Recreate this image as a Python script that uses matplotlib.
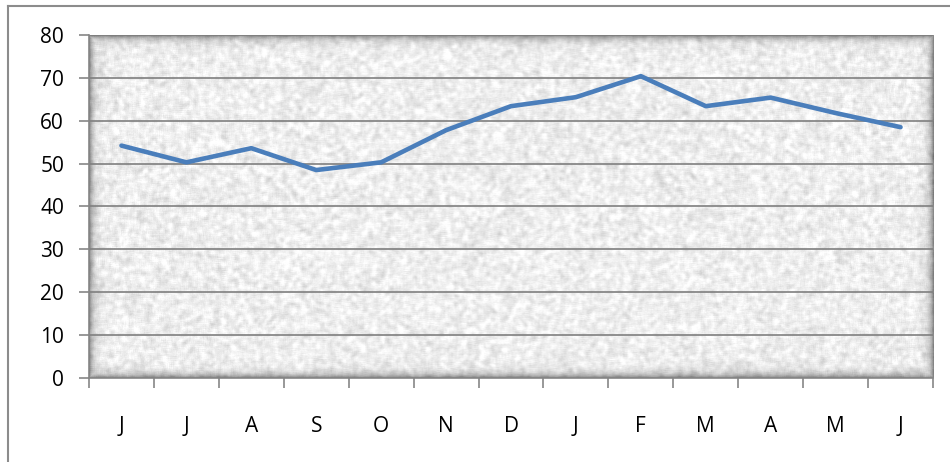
import numpy as np
import matplotlib
matplotlib.use('Agg')
import matplotlib.pyplot as plt
from matplotlib.lines import Line2D

months = ['J', 'J', 'A', 'S', 'O', 'N', 'D', 'J', 'F', 'M', 'A', 'M', 'J']
values = [54.2, 50.3, 53.6, 48.5, 50.3, 57.8, 63.4, 65.5, 70.4, 63.4, 65.4, 61.8, 58.5]
yticks = [0, 10, 20, 30, 40, 50, 60, 70, 80]

plt.rcParams['font.family'] = ['Open Sans', 'DejaVu Sans']

W, H = 950, 462
fig = plt.figure(figsize=(W / 100, H / 100), dpi=100)
fig.patch.set_facecolor('white')

# outer chart frame (top and left edges)
fig.add_artist(Line2D([8 / W, 1], [1 - 6 / H, 1 - 6 / H], color='#8c8c8c', lw=1.5))
fig.add_artist(Line2D([8 / W, 8 / W], [0, 1 - 6 / H], color='#8c8c8c', lw=1.5))

x0, x1, ytop, ybot = 89, 933, 35, 378
ax = fig.add_axes([x0 / W, 1 - ybot / H, (x1 - x0) / W, (ybot - ytop) / H])

# speckled light gray background with darker edges
rng = np.random.default_rng(7)
ph, pw = ybot - ytop, x1 - x0
noise = rng.random((ph, pw))
k = 2
pad = np.pad(noise, k, mode='reflect')
sm = np.zeros_like(noise)
for dy in range(-k, k + 1):
    for dx in range(-k, k + 1):
        sm += pad[k + dy:k + dy + ph, k + dx:k + dx + pw]
sm /= (2 * k + 1) ** 2
sm = (sm - sm.mean()) / sm.std()
tex = 0.935 + 0.032 * sm + 0.02 * (noise - 0.5)
yy, xx = np.mgrid[0:ph, 0:pw]
d = np.minimum(np.minimum(xx, pw - 1 - xx), np.minimum(yy, ph - 1 - yy)).astype(float)
vign = 1 - 0.45 * np.exp(-d / 4.0)
tex = np.clip(tex * vign, 0, 1)
ax.imshow(tex, cmap='gray', vmin=0, vmax=1, extent=[-0.5, 12.5, 0, 80],
          aspect='auto', zorder=0, interpolation='bilinear')

ax.set_xlim(-0.5, 12.5)
ax.set_ylim(0, 80)

for v in yticks[1:]:
    ax.axhline(v, color='#7f7f7f', lw=1.2, zorder=1)

x = np.arange(len(months))
ax.plot(x, values, color='#4a7ebb', lw=3.3, solid_joinstyle='round',
        solid_capstyle='round', zorder=3)

for s in ['top', 'right']:
    ax.spines[s].set_visible(False)
for s in ['left', 'bottom']:
    ax.spines[s].set_color('#868686')
    ax.spines[s].set_linewidth(1.2)

ax.set_yticks(yticks)
ax.set_yticklabels([str(v) for v in yticks], fontsize=15)
ax.tick_params(axis='y', length=7, width=1.2, color='#868686', pad=11)

ax.set_xticks(np.arange(-0.5, 13, 1))
ax.set_xticklabels([])
ax.set_xticks(x, minor=True)
ax.set_xticklabels(months, minor=True, fontsize=15)
ax.tick_params(axis='x', which='major', length=7, width=1.2, color='#868686')
ax.tick_params(axis='x', which='minor', length=0, pad=27)

fig.savefig('out.png', dpi=100)
